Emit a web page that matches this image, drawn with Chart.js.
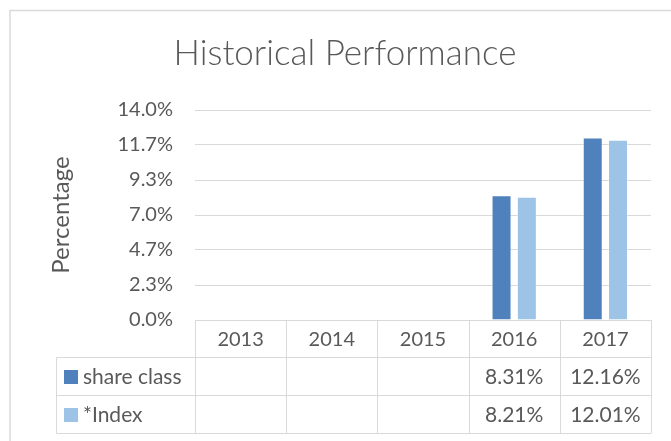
<!DOCTYPE html>
<html>
<head>
<meta charset="utf-8">
<script src="https://cdn.jsdelivr.net/npm/chart.js@4"></script>
<style>
  html, body { margin: 0; padding: 0; background: #fff; }
  #wrap { width: 671px; height: 441px; }
</style>
</head>
<body>
<div id="wrap"><canvas id="chart" width="671" height="441"></canvas></div>
<script>
// chart data
const years = ["2013", "2014", "2015", "2016", "2017"];
const shareClass = [null, null, null, 8.31, 12.16];
const indexVals = [null, null, null, 8.21, 12.01];
const yTickValues = [0, 2.333, 4.667, 7, 9.333, 11.667, 14];
const yTickLabels = ["0.0%", "2.3%", "4.7%", "7.0%", "9.3%", "11.7%", "14.0%"];

const seriesNames = ["share class", "*Index"];
const seriesColors = ["#4F81BD", "#9DC3E6"];
const textColor = "#595959";
const lineColor = "#D9D9D9";
const fontFamily = "Lato, 'Open Sans', sans-serif";

// draws the outer frame and the data table under the plot
const tablePlugin = {
  id: "dataTable",
  beforeDraw(chart) {
    const ctx = chart.ctx;
    ctx.save();
    ctx.strokeStyle = lineColor;
    ctx.lineWidth = 1.5;
    ctx.beginPath();
    ctx.moveTo(10, 460);
    ctx.lineTo(10, 10.5);
    ctx.lineTo(680, 10.5);
    ctx.stroke();
    ctx.restore();
  },
  afterDraw(chart) {
    const ctx = chart.ctx;
    const x = chart.scales.x;
    const area = chart.chartArea;
    const colW = (area.right - area.left) / years.length;
    const rows = [area.bottom, 357.5, 395.5, 433.5];
    const legendLeft = 56.5;

    ctx.save();
    ctx.strokeStyle = lineColor;
    ctx.lineWidth = 1;
    ctx.beginPath();
    // horizontal lines
    ctx.moveTo(area.left, Math.round(rows[0]) + 0.5);
    ctx.lineTo(area.right, Math.round(rows[0]) + 0.5);
    for (let r = 1; r < rows.length; r++) {
      ctx.moveTo(legendLeft, rows[r]);
      ctx.lineTo(area.right, rows[r]);
    }
    // vertical lines
    for (let i = 0; i <= years.length; i++) {
      const px = Math.round(area.left + i * colW) + 0.5;
      ctx.moveTo(px, rows[0]);
      ctx.lineTo(px, rows[3]);
    }
    ctx.moveTo(legendLeft, rows[1]);
    ctx.lineTo(legendLeft, rows[3]);
    ctx.stroke();

    ctx.fillStyle = textColor;
    ctx.font = "20px " + fontFamily;
    ctx.textAlign = "center";
    ctx.textBaseline = "middle";
    years.forEach((y, i) => {
      const cx = x.getPixelForValue(i);
      ctx.fillText(y, cx, (rows[0] + rows[1]) / 2 + 1);
    });

    ctx.font = "21px " + fontFamily;
    const series = [shareClass, indexVals];
    series.forEach((vals, s) => {
      const cy = (rows[s + 1] + rows[s + 2]) / 2 + 1;
      vals.forEach((v, i) => {
        if (v == null) return;
        ctx.fillText(v.toFixed(2) + "%", x.getPixelForValue(i), cy);
      });
      // legend key
      ctx.fillStyle = seriesColors[s];
      ctx.fillRect(64, cy - 7.5, 14, 14);
      ctx.fillStyle = textColor;
      ctx.textAlign = "left";
      ctx.fillText(seriesNames[s], 83, cy);
      ctx.textAlign = "center";
    });
    ctx.restore();
  }
};

new Chart(document.getElementById("chart"), {
  type: "bar",
  data: {
    labels: years,
    datasets: [
      {
        label: seriesNames[0],
        data: shareClass,
        backgroundColor: seriesColors[0],
        borderColor: "rgba(255,255,255,0.35)",
        borderWidth: 1,
        categoryPercentage: 0.555,
        barPercentage: 0.79
      },
      {
        label: seriesNames[1],
        data: indexVals,
        backgroundColor: seriesColors[1],
        borderColor: "rgba(255,255,255,0.35)",
        borderWidth: 1,
        categoryPercentage: 0.555,
        barPercentage: 0.79
      }
    ]
  },
  options: {
    responsive: false,
    animation: false,
    layout: { padding: { left: 39, right: 20, top: 0, bottom: 121 } },
    plugins: {
      legend: { display: false },
      tooltip: { enabled: false },
      title: {
        display: true,
        text: "Historical Performance",
        color: textColor,
        font: { family: fontFamily, size: 35, weight: "300" },
        padding: { top: 33, bottom: 35 }
      }
    },
    scales: {
      x: { display: false },
      y: {
        min: 0,
        max: 14,
        afterFit(scale) { scale.width = 156; },
        afterBuildTicks(scale) {
          scale.ticks = yTickValues.map(v => ({ value: v }));
        },
        ticks: {
          padding: 22,
          color: textColor,
          font: { family: fontFamily, size: 20 },
          callback: (v, i) => yTickLabels[i]
        },
        grid: { color: lineColor, drawTicks: false },
        border: { display: false },
        title: {
          display: true,
          text: "Percentage",
          color: textColor,
          font: { family: fontFamily, size: 24 },
          padding: { top: 8, bottom: 0 }
        }
      }
    }
  },
  plugins: [tablePlugin]
});
</script>
</body>
</html>
